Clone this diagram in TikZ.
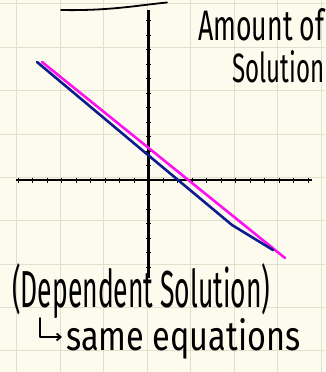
\documentclass[tikz,border=0pt]{standalone}
\usepackage{fontspec}
\setmainfont{Fira Sans}
\usepackage{graphicx}
\usetikzlibrary{arrows.meta}
\definecolor{paper}{HTML}{FCFBEE}
\definecolor{gridc}{HTML}{E2DFCD}
\definecolor{navy}{HTML}{0D1B8E}
\definecolor{mag}{HTML}{FF10F0}
\tikzset{
  gridline/.style={gridc, line width=0.9pt},
  axisline/.style={black, line width=2.8pt},
  tickline/.style={black, line width=1pt},
  pen/.style={black, line width=1.8pt, line cap=round, line join=round},
  graphline/.style={line width=2.6pt, line cap=round, line join=round},
  hand/.style={inner sep=0pt, anchor=base west, text=black}
}
\begin{document}
\begin{tikzpicture}[x=1pt,y=-1pt]
\useasboundingbox (0,0) rectangle (325,372);
\fill[paper] (0,0) rectangle (325,372);
% grid
\foreach \x in {16.5,60,103.5,147,190.5,234,277.5,321}
  \draw[gridline] (\x,0) -- (\x,372);
\foreach \y in {3.5,47,90.5,134,177,220.5,264,307,350.5}
  \draw[gridline] (0,\y) -- (325,\y);
% axes
\coordinate (yt) at (148.5,10);
\coordinate (yb) at (148.5,278);
\coordinate (xl) at (16,180);
\coordinate (xr) at (312,180);
\draw[axisline] (yt) -- (yb);
\draw[axisline] (xl) -- (xr);
\foreach \k in {-9,...,11}
  \draw[tickline] (148.5+14.5*\k,177.5) -- (148.5+14.5*\k,182.5);
\foreach \k in {-11,...,6}
  \draw[tickline] (146,180+14.5*\k) -- (151,180+14.5*\k);
% lines
\coordinate (m1) at (42,62);
\coordinate (m2) at (285,258);
\draw[graphline, mag] (m1) -- (m2);
\coordinate (b1) at (37,62);
\coordinate (b2) at (148,155);
\coordinate (b3) at (178,180);
\coordinate (b4) at (232,225);
\coordinate (b5) at (273,250);
\draw[graphline, navy] (b1) -- (b2) -- (b3) -- (b4) -- (b5);
% underline of cut-off title
\coordinate (u1) at (61,10);
\coordinate (u2) at (167,2.5);
\draw[pen] (u1) .. controls (110,11) and (140,5) .. (u2);
% texts
\node[hand] (amount) at (198,40) {\resizebox{126pt}{32pt}{Amount of}};
\node[hand] (solution) at (232,82) {\resizebox{92pt}{32pt}{Solution}};
\node[hand] (dep) at (12,307) {\resizebox{258pt}{44pt}{(Dependent Solution)}};
\node[hand] (same) at (66,350) {\resizebox{234pt}{32pt}{same equations}};
% hooked arrow
\coordinate (a1) at (40,318);
\coordinate (a2) at (40,337);
\coordinate (a3) at (62,337);
\draw[pen, -{Straight Barb[length=4pt,width=7pt]}] (a1) -- (a2) -- (a3);
\end{tikzpicture}
\end{document}
